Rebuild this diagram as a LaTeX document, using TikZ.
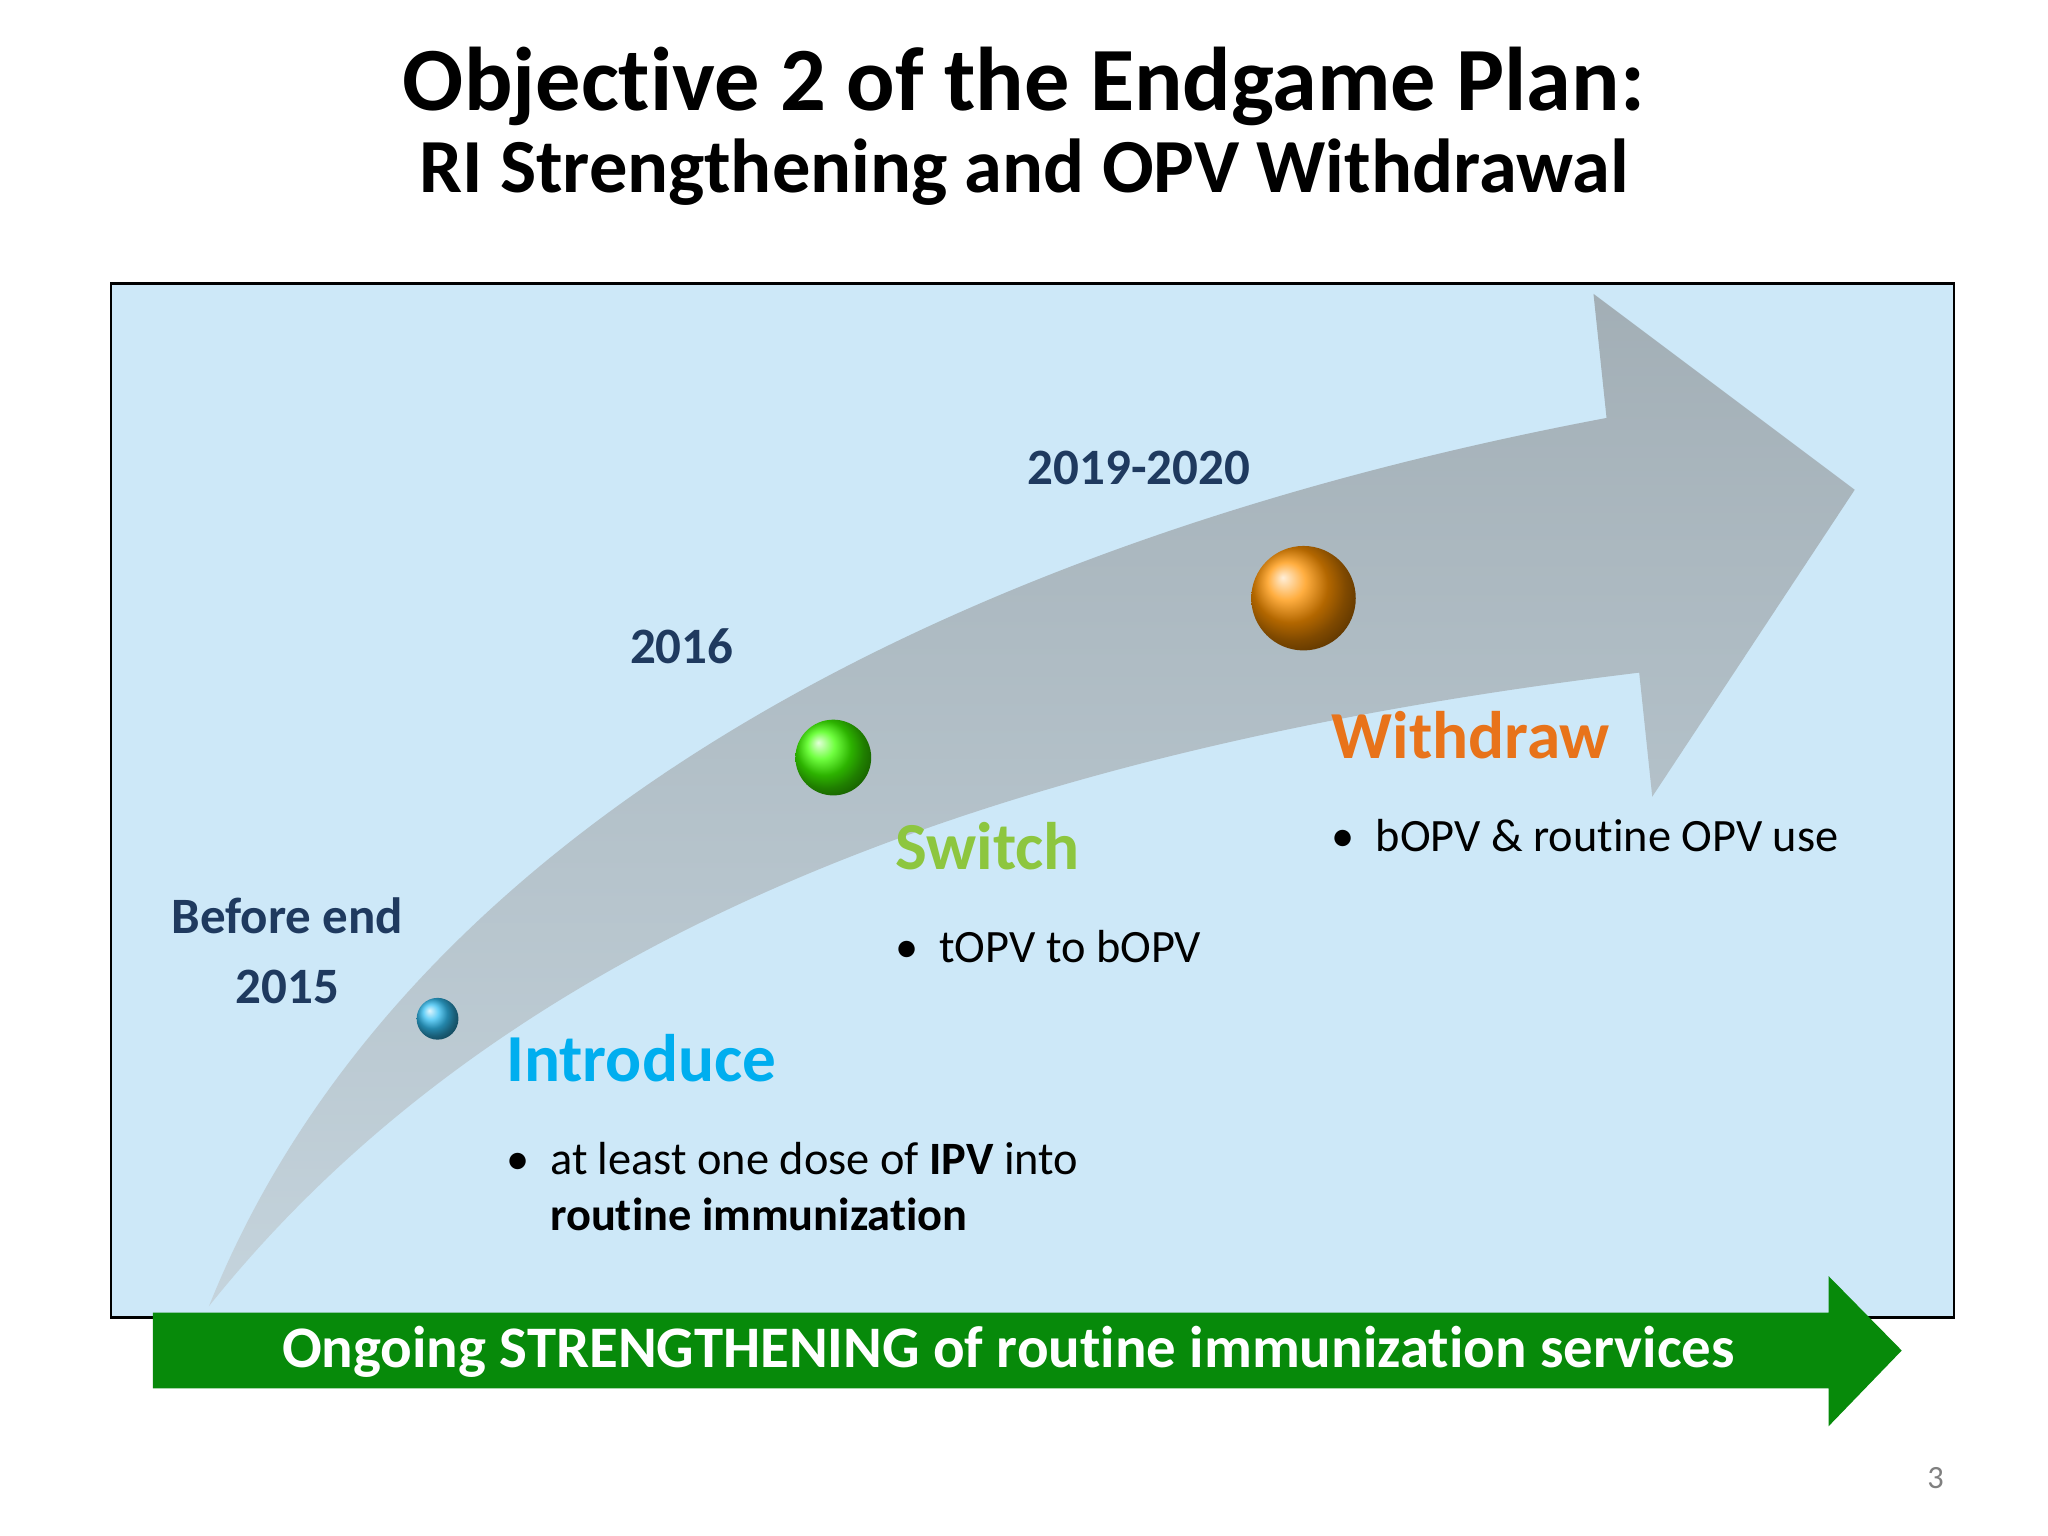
\documentclass[tikz,border=0pt]{standalone}
\usepackage{fontspec}
\setmainfont[Ligatures=NoCommon]{Carlito}
\usetikzlibrary{shadings}
\definecolor{bgblue}{HTML}{CDE8F8}
\definecolor{navy}{HTML}{1F3A5F}
\definecolor{gbar}{HTML}{078A0A}
\definecolor{cyanT}{HTML}{00AEEF}
\definecolor{greenT}{HTML}{8DC63F}
\definecolor{orangeT}{HTML}{E8731A}
\tikzset{yr/.style={font=\fontsize{11}{13}\selectfont\bfseries,text=navy,align=center},
 head/.style={font=\fontsize{14.5}{17}\selectfont\bfseries,anchor=west},
 bul/.style={font=\fontsize{10}{12}\selectfont,anchor=north west,align=left}}
\begin{document}
\begin{tikzpicture}[x=0.0099cm,y=-0.0099cm]
\useasboundingbox (0,0) rectangle (1568,1176);
\node (t1) at (784,66) {\fontsize{19.5}{22}\selectfont\bfseries Objective 2 of the Endgame Plan:};
\node (t2) at (784,132) {\fontsize{16.5}{19}\selectfont\bfseries RI Strengthening and OPV Withdrawal};
\draw[fill=bgblue,line width=0.6pt] (85,217) rectangle (1496,1009);
\shade[left color=gray!55!bgblue, right color=bgblue!70!gray!80!white, shading angle=0]
 (160,1000) .. controls (300,650) and (700,420) .. (1230,320)
 -- (1220,225) -- (1420,375) -- (1265,610) -- (1255,515)
 .. controls (800,570) and (400,700) .. (160,1000) -- cycle;
\shade[ball color=cyanT!80!white] (335,780) circle (16);
\shade[ball color=green!75!yellow] (638,580) circle (29);
\shade[ball color=orange!85!yellow] (998,458) circle (40);
\node[yr] (y1) at (220,728) {Before end\\[2pt]2015};
\node[yr] (y2) at (522,495) {2016};
\node[yr] (y3) at (872,358) {2019-2020};
\node[head,text=cyanT] (h1) at (375,810) {Introduce};
\node[head,text=greenT] (h2) at (673,648) {Switch};
\node[head,text=orangeT] (h3) at (1007,563) {Withdraw};
\node[bul] (b1) at (375,862) {\textbullet\ \ at least one dose of \textbf{IPV} into\\\phantom{\textbullet\ \ }\textbf{routine immunization}};
\node[bul] (b2) at (673,700) {\textbullet\ \ tOPV to bOPV};
\node[bul] (b3) at (1007,615) {\textbullet\ \ bOPV \& routine OPV use};
\fill[gbar] (117,1005) -- (1400,1005) -- (1400,977) -- (1456,1034) -- (1400,1092) -- (1400,1063) -- (117,1063) -- cycle;
\node[text=white,font=\fontsize{12.7}{15}\selectfont\bfseries] (g) at (772,1035) {Ongoing STRENGTHENING of routine immunization services};
\node[text=gray,font=\fontsize{7}{8}\selectfont] (p) at (1482,1132) {3};
\end{tikzpicture}
\end{document}
